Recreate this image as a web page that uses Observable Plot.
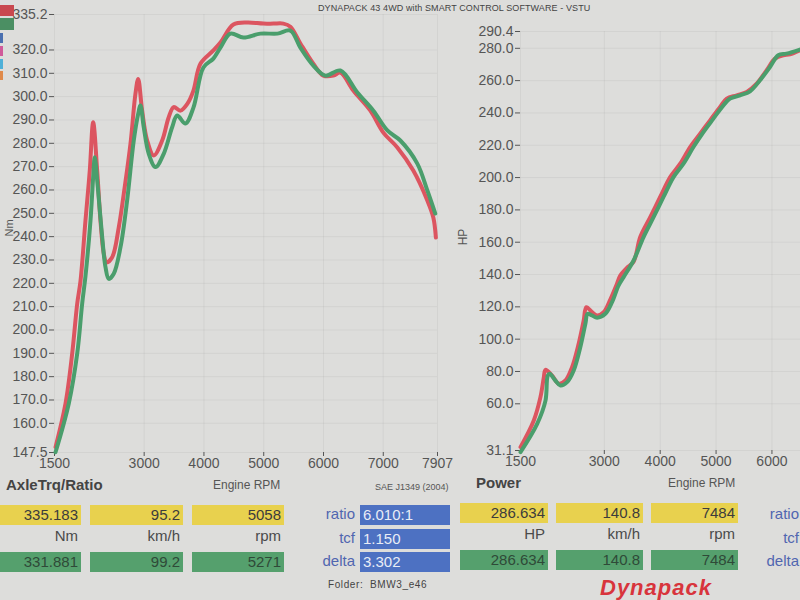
<!DOCTYPE html>
<html>
<head>
<meta charset="utf-8">
<script src="https://cdn.jsdelivr.net/npm/d3@7"></script>
<script src="https://cdn.jsdelivr.net/npm/@observablehq/plot@0.6"></script>
<style>
  html, body { margin:0; padding:0; }
  body { width:800px; height:600px; overflow:hidden; position:relative; background:#dddddb; font-family:"Liberation Sans", Arial, sans-serif; color:#4a4a4a; }
  .abs { position:absolute; white-space:nowrap; }
  .box { position:absolute; height:20px; line-height:20px; font-size:15px; text-align:right; padding-right:3px; box-sizing:border-box; color:#3c3c3c; }
  .yel { background:#e8d14e; }
  .grn { background:#55a06d; color:#2f4a38; }
  .blu { background:#4d71c2; color:#e8ecf6; text-align:left; padding-left:3px; }
  .unit { position:absolute; font-size:15px; text-align:right; color:#4a4a4a; }
  .lbl { position:absolute; font-size:15px; text-align:right; color:#5066b0; }
  #right svg, #left svg { max-width:none !important; }
</style>
</head>
<body>
<div id="left" class="abs" style="left:0;top:0;width:460px;height:475px;"></div>
<div id="right" class="abs" style="left:460px;top:0;width:340px;height:475px;overflow:hidden;"></div>
<script>
// ---------- data ----------
const rpmTicks = [1500, 3000, 4000, 5000, 6000, 7000, 7907];
const rpmTicksPower = [1500, 3000, 4000, 5000, 6000];
const torqueTicks = [147.5, 160, 170, 180, 190, 200, 210, 220, 230, 240, 250, 260, 270, 280, 290, 300, 310, 320, 335.2];
const powerTicks = [31.1, 60, 80, 100, 120, 140, 160, 180, 200, 220, 240, 260, 280, 290.4];

const torqueRpmRed = [1517,1684,1796,1880,1935,2018,2090,2147,2214,2269,2324,2369,2465,2575,2659,2771,2854,2900,2966,3050,3160,3301,3411,3495,3607,3724,3824,3941,4158,4276,4493,4727,4994,5162,5329,5446,5613,5830,5998,6165,6282,6499,6784,7001,7235,7502,7737,7837,7880];
const torqueRed    = [149.8,168.5,189.9,211.3,221.0,246.9,268.3,289.0,268.3,246.9,232.8,229.0,231.2,244.0,258.4,279.8,301.2,307.6,294.0,281.2,274.8,281.2,291.2,295.5,294.0,297.0,302.6,314.1,319.8,323.2,330.9,331.8,331.3,331.3,331.3,330.0,322.8,314.1,309.0,309.0,310.3,302.6,294.0,284.6,278.2,268.3,255.5,248.2,239.6];

const torqueRpmGreen = [1517,1739,1880,1963,2018,2102,2147,2174,2224,2298,2353,2408,2491,2604,2715,2826,2900,2938,2993,3077,3189,3327,3468,3552,3690,3824,3991,4158,4276,4443,4660,4944,5229,5446,5613,5830,6031,6282,6566,6834,7068,7285,7569,7737,7870];
const torqueGreen    = [147.6,168.5,189.9,211.3,223.0,246.9,265.5,274.0,261.2,239.8,226.9,221.9,224.1,235.5,255.5,281.2,292.6,296.2,286.9,275.5,269.8,275.5,286.9,291.9,288.5,295.3,312.5,316.3,321.0,327.0,325.3,327.0,327.0,328.3,321.0,313.3,309.0,311.2,301.8,294.0,285.5,281.2,271.3,259.8,249.9];

const powerRpmRed = [1500,1738,1857,1916,1947,2066,2184,2304,2423,2541,2631,2679,2780,2870,2988,3107,3227,3286,3400,3524,3643,3822,4000,4179,4358,4536,4715,4893,5072,5191,5370,5549,5727,5906,6054,6203,6322,6500];
const powerRed    = [33.2,49.7,64.1,76.0,81.0,77.5,72.4,74.4,82.7,97.2,111.6,119.8,116.7,114.7,116.7,124.5,134.3,139.4,144.0,148.0,163.2,175.5,188.0,200.3,208.6,218.9,227.2,235.4,243.7,248.9,250.9,253.0,258.1,266.4,273.6,275.7,276.3,278.8];

const powerRpmGreen = [1500,1798,1947,1988,2023,2125,2214,2334,2452,2571,2661,2702,2780,2870,3018,3138,3256,3345,3524,3702,3881,4059,4238,4417,4595,4774,4952,5131,5250,5429,5608,5786,5965,6113,6262,6500];
const powerGreen    = [30.1,47.6,62.0,77.5,78.6,74.4,71.3,73.4,80.6,95.1,109.5,115.7,114.7,113.3,115.7,122.9,133.3,138.4,148.7,163.2,175.5,188.0,200.3,208.6,218.9,228.2,236.5,244.7,248.9,250.9,253.4,260.2,268.4,275.7,276.7,279.2];

// table values
const rowTopLeft = ["335.183", "95.2", "5058"];
const rowUnitsLeft = ["Nm", "km/h", "rpm"];
const rowBotLeft = ["331.881", "99.2", "5271"];
const rowTopRight = ["286.634", "140.8", "7484"];
const rowUnitsRight = ["HP", "km/h", "rpm"];
const rowBotRight = ["286.634", "140.8", "7484"];
const blueLabels = ["ratio", "tcf", "delta"];
const blueValues = ["6.010:1", "1.150", "3.302"];

// ---------- charts ----------
const RED = "#dc5560", GREEN = "#4a9e6c";
const zip = (xs, ys) => xs.map((x, i) => ({rpm: x, v: ys[i]}));
const style = {fontSize: "14px", fontFamily: "Liberation Sans, Arial, sans-serif", color: "#555", background: "transparent", overflow: "visible", maxWidth: "none"};

const left = Plot.plot({
  width: 460, height: 475,
  marginLeft: 54, marginRight: 23, marginTop: 14, marginBottom: 23,
  style,
  x: {domain: [1500, 7907]},
  y: {domain: [147.5, 335.2]},
  marks: [
    Plot.gridX(rpmTicks, {stroke: "#888", strokeOpacity: 0.12}),
    Plot.gridY(torqueTicks, {stroke: "#888", strokeOpacity: 0.12}),
    Plot.axisX({ticks: rpmTicks, tickFormat: d => String(d), tickSize: 4, tickPadding: 2, label: null}),
    Plot.axisY({ticks: torqueTicks, tickFormat: d => d.toFixed(1), tickSize: 5, tickPadding: 2, label: null}),
    Plot.line(zip(torqueRpmRed, torqueRed), {x: "rpm", y: "v", stroke: RED, strokeWidth: 4, curve: "catmull-rom"}),
    Plot.line(zip(torqueRpmGreen, torqueGreen), {x: "rpm", y: "v", stroke: GREEN, strokeWidth: 4, curve: "catmull-rom"})
  ]
});
document.getElementById("left").appendChild(left);

const right = Plot.plot({
  width: 440, height: 475,
  marginLeft: 60, marginRight: 22, marginTop: 31, marginBottom: 25,
  style,
  x: {domain: [1500, 7907]},
  y: {domain: [31.1, 290.4]},
  marks: [
    Plot.gridX(rpmTicksPower, {stroke: "#888", strokeOpacity: 0.12}),
    Plot.gridY(powerTicks, {stroke: "#888", strokeOpacity: 0.12}),
    Plot.axisX({ticks: rpmTicksPower, tickFormat: d => String(d), tickSize: 4, tickPadding: 2, label: null}),
    Plot.axisY({ticks: powerTicks, tickFormat: d => d.toFixed(1), tickSize: 5, tickPadding: 2, label: null}),
    Plot.line(zip(powerRpmRed, powerRed), {x: "rpm", y: "v", stroke: RED, strokeWidth: 4, curve: "catmull-rom"}),
    Plot.line(zip(powerRpmGreen, powerGreen), {x: "rpm", y: "v", stroke: GREEN, strokeWidth: 4, curve: "catmull-rom"})
  ]
});
document.getElementById("right").appendChild(right);

// ---------- surrounding text ----------
const add = (html, css, cls) => {
  const d = document.createElement("div");
  d.className = cls || "abs";
  d.innerHTML = html;
  d.style.cssText += css;
  document.body.appendChild(d);
  return d;
};
add("DYNAPACK 43 4WD with SMART CONTROL SOFTWARE - VSTU", "left:318px;top:3px;font-size:9px;color:#444;letter-spacing:0.1px;");
// legend swatches
add("", "left:0;top:5px;width:14px;height:11px;background:#c9484f;");
add("", "left:0;top:18px;width:14px;height:12px;background:#4b8f63;");
add("", "left:0;top:33px;width:3px;height:10px;background:#4a6fb0;");
add("", "left:0;top:46px;width:3px;height:10px;background:#d05a9a;");
add("", "left:0;top:59px;width:3px;height:10px;background:#4fb0d8;");
add("", "left:0;top:71px;width:3px;height:9px;background:#e08a4a;");
// axis titles
add("Nm", "left:0px;top:222px;font-size:11px;transform:rotate(-90deg);color:#555;");
add("HP", "left:455px;top:230px;font-size:12px;transform:rotate(-90deg);color:#555;");
add("AxleTrq/Ratio", "left:6px;top:476px;font-size:15px;font-weight:bold;color:#444;");
add("Engine RPM", "left:213px;top:478px;font-size:12px;color:#555;");
add("SAE J1349 (2004)", "left:375px;top:482px;font-size:9px;color:#555;");
add("Power", "left:476px;top:474px;font-size:15px;font-weight:bold;color:#444;");
add("Engine RPM", "left:668px;top:476px;font-size:12px;color:#555;");

// left boxes
const leftCols = [[0, 81], [90, 93], [192, 92]];
leftCols.forEach(([x, w], i) => {
  add(rowTopLeft[i], `left:${x}px;top:505px;width:${w}px;`, "box yel");
  add(rowUnitsLeft[i], `left:${x}px;top:527px;width:${w - 3}px;`, "unit");
  add(rowBotLeft[i], `left:${x}px;top:552px;width:${w}px;`, "box grn");
});
blueLabels.forEach((t, i) => {
  add(t, `left:300px;top:${505 + i * 23.5}px;width:55px;`, "lbl");
  add(blueValues[i], `left:360px;top:${505 + i * 23.5}px;width:90px;`, "box blu");
});
// right boxes
const rightCols = [[460, 88], [556, 87], [651, 87]];
rightCols.forEach(([x, w], i) => {
  add(rowTopRight[i], `left:${x}px;top:503px;width:${w}px;`, "box yel");
  add(rowUnitsRight[i], `left:${x}px;top:525px;width:${w - 3}px;`, "unit");
  add(rowBotRight[i], `left:${x}px;top:550px;width:${w}px;`, "box grn");
});
blueLabels.forEach((t, i) => {
  add(t, `left:744px;top:${505 + i * 23.5}px;width:55px;`, "lbl");
});
add("Folder:&nbsp; BMW3_e46", "left:328px;top:579px;font-size:10px;color:#444;letter-spacing:0.6px;");
add("Dynapack", "left:600px;top:575px;font-size:22px;font-weight:bold;font-style:italic;color:#d8343c;letter-spacing:1px;");
</script>
</body>
</html>
